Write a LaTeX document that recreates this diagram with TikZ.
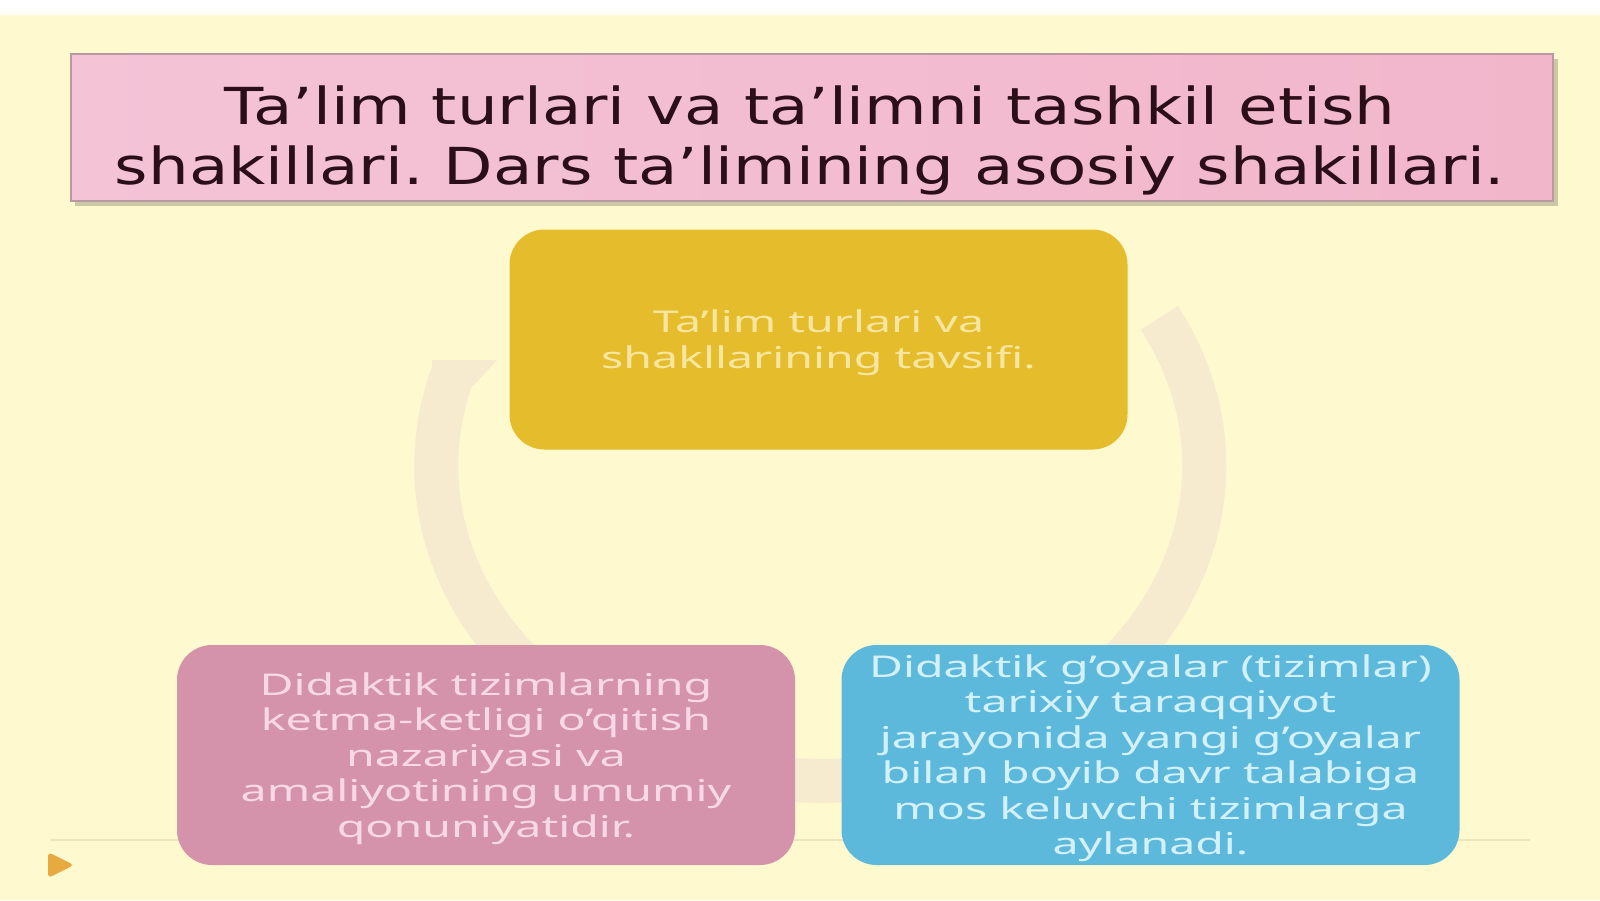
\documentclass[tikz,border=0pt]{standalone}
\usepackage{fontspec}
\newfontfamily\titlefont[FakeStretch=1.26]{DejaVu Sans}
\newfontfamily\boxfont[FakeStretch=1.55]{Noto Sans}
\definecolor{bgcream}{HTML}{FFF9CF}
\definecolor{titleL}{HTML}{F4C3D6}
\definecolor{titleR}{HTML}{F2B6CB}
\definecolor{titleedge}{HTML}{B99AA3}
\definecolor{titletext}{HTML}{2A0E18}
\definecolor{yelbox}{HTML}{E5BC2C}
\definecolor{yeltext}{HTML}{F7E6A0}
\definecolor{pinkbox}{HTML}{D592AB}
\definecolor{pinktext}{HTML}{F7D9E6}
\definecolor{bluebox}{HTML}{5CB9DB}
\definecolor{bluetext}{HTML}{D4F1F9}
\definecolor{bandc}{HTML}{F6EACF}
\definecolor{hlinec}{HTML}{EFE6BE}
\definecolor{playc}{HTML}{E6AA3F}
\newcommand\boxlines[1]{\raisebox{-2pt}[\height][\depth]{\begin{tabular}{@{}c@{}}#1\end{tabular}}}
\begin{document}
\frenchspacing
\begin{tikzpicture}[x=0.5pt,y=-0.5pt,
  titlebox/.style={rectangle, draw=titleedge, line width=1pt, left color=titleL, right color=titleR,
    minimum width=741pt, minimum height=73.5pt, inner sep=0pt},
  titleline/.style={anchor=base, inner sep=0pt, text=titletext, font=\titlefont\fontsize{25.5}{30}\selectfont},
  cyclebox/.style={rectangle, rounded corners=17.5pt, minimum width=309pt, minimum height=110pt,
    inner sep=0pt, align=center, font=\boxfont\fontsize{15}{17.75}\selectfont},
  band/.style={line width=22pt, color=bandc},
  hline/.style={line width=1.2pt, color=hlinec}]
% canvas
\fill[white] (0,0) rectangle (1600,900);
\fill[bgcream] (0,15) rectangle (1600,900);
\useasboundingbox (0,0) rectangle (1600,900);
% faint footer line
\coordinate (lineL) at (50,840);
\coordinate (lineR) at (1530,840);
\draw[hline] (lineL) -- (lineR);
% play icon
\fill[playc, rounded corners=2pt] (48,852) -- (74,865) -- (48,878) -- cycle;
% cycle arrow band
\coordinate (arcS) at (1159.3,317.9);
\draw[band] (arcS) arc[start angle=-28, end angle=197, x radius=384, y radius=315] coordinate (arcE);
\fill[bandc] (432.2,370.2) -- (432,360) -- (497,360) -- (473.4,385.6) -- cycle;
% title
\fill[black, opacity=0.2] (75,59) rectangle (1558,206);
\node[titlebox] (title) at (812,127.5) {};
\node[titleline] (title1) at (810,124) {Ta’lim turlari va ta’limni tashkil etish};
\node[titleline] (title2) at (810,184) {shakillari. Dars ta’limining asosiy shakillari.};
% cycle boxes
\node[cyclebox, fill=yelbox, text=yeltext] (top) at (818.5,339.5)
  {\boxlines{Ta’lim turlari va\\shakllarining tavsifi.}};
\node[cyclebox, fill=pinkbox, text=pinktext] (left) at (486,755)
  {\boxlines{Didaktik tizimlarning\\ketma-ketligi o’qitish\\nazariyasi va\\amaliyotining umumiy\\qonuniyatidir.}};
\node[cyclebox, fill=bluebox, text=bluetext] (right) at (1150.5,755)
  {\boxlines{Didaktik g’oyalar (tizimlar)\\tarixiy taraqqiyot\\jarayonida yangi g’oyalar\\bilan boyib davr talabiga\\mos keluvchi tizimlarga\\aylanadi.}};
\end{tikzpicture}
\end{document}
